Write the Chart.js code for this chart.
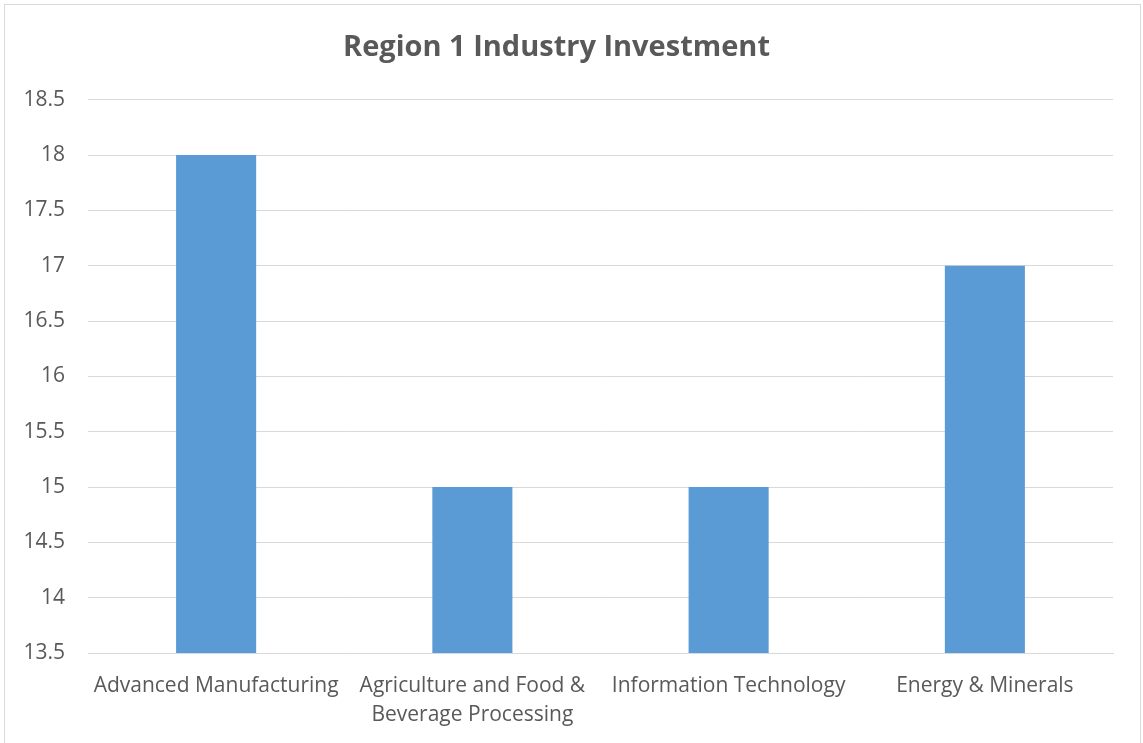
<!DOCTYPE html>
<html>
<head>
<meta charset="utf-8">
<script src="https://cdn.jsdelivr.net/npm/chart.js@4"></script>
<style>
  html, body { margin: 0; padding: 0; background: #fff; overflow: hidden; }
  #frame {
    position: absolute; left: 4px; top: 4px;
    width: 1135px; height: 780px;
    border: 1px solid #d9d9d9;
  }
  #chart { position: absolute; left: 0; top: 0; }
</style>
</head>
<body>
<div id="frame"></div>
<canvas id="chart" width="1143" height="743"></canvas>
<script>
const categories = [
  "Advanced Manufacturing",
  ["Agriculture and Food &", "Beverage Processing"],
  "Information Technology",
  "Energy & Minerals"
];
const investment = [18, 15, 15, 17];
const yMin = 13.5;
const yMax = 18.5;
const yStep = 0.5;

const textColor = "#595959";
const gridColor = "#d9d9d9";

const ctx = document.getElementById("chart").getContext("2d");
new Chart(ctx, {
  type: "bar",
  data: {
    labels: categories,
    datasets: [{
      label: "Investment",
      data: investment,
      backgroundColor: "#5b9bd5",
      barPercentage: 0.3125,
      categoryPercentage: 1
    }]
  },
  options: {
    responsive: false,
    animation: false,
    layout: { padding: { left: 0, right: 30, top: 0, bottom: 0 } },
    plugins: {
      legend: { display: false },
      tooltip: { enabled: false },
      title: {
        display: true,
        text: "Region 1 Industry Investment",
        color: textColor,
        font: { family: "'Open Sans', sans-serif", size: 29, weight: "bold" },
        padding: { top: 30, bottom: 35 }
      }
    },
    scales: {
      x: {
        grid: { display: false },
        border: { display: true, color: gridColor },
        ticks: {
          color: textColor,
          padding: 10,
          maxRotation: 0,
          autoSkip: false,
          font: { family: "'Open Sans', sans-serif", size: 21, lineHeight: 1.4 }
        },
        afterFit: (scale) => { scale.height = 90; }
      },
      y: {
        min: yMin,
        max: yMax,
        grid: { color: gridColor, drawTicks: false },
        border: { display: false },
        ticks: {
          stepSize: yStep,
          color: textColor,
          padding: 23,
          font: { family: "'Open Sans', sans-serif", size: 21 },
          callback: (value) => String(Math.round(value * 10) / 10)
        },
        afterFit: (scale) => { scale.width = 88; }
      }
    }
  }
});
</script>
</body>
</html>
